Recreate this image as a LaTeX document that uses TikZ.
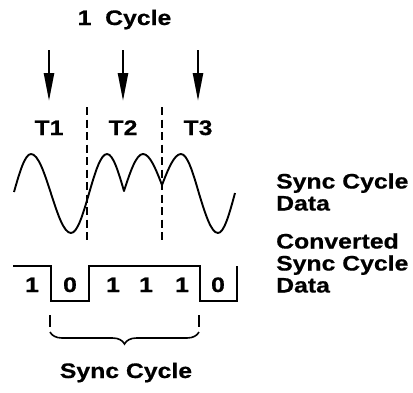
\documentclass[tikz,border=0pt]{standalone}
\usepackage{fontspec}
\usetikzlibrary{arrows.meta, decorations.pathreplacing}
\newfontfamily\lblfont{Liberation Sans}[FakeStretch=1.18, FakeBold=0.6]
\tikzset{
  lbl/.style   = {font=\lblfont\bfseries\fontsize{21}{22}\selectfont, inner sep=0pt},
  side/.style  = {lbl, align=left, anchor=west},
  wave/.style  = {line width=1.9pt, line join=round},
  bits/.style  = {line width=2.8pt, line join=miter},
  cut/.style   = {line width=1.9pt, dash pattern=on 8pt off 4.5pt},
  tick/.style  = {line width=1.9pt},
  arr/.style   = {-{Triangle[length=28pt,width=10pt]}, line width=2.4pt},
  brc/.style   = {line width=1.6pt, decorate,
                  decoration={brace, mirror, amplitude=12pt}},
}

\begin{document}
\begin{tikzpicture}[x=1pt, y=-1pt]
  \useasboundingbox (0,0) rectangle (413,392);

  % sample instants
  \node[lbl, anchor=base] (cyc) at (124.5,25) {1~~Cycle};
  \foreach \i/\x in {1/49, 2/123, 3/198} {
    \coordinate (top\i) at (\x,50);
    \coordinate (tip\i) at (\x,101);
    \draw[arr] (top\i) -- (tip\i);
    \node[lbl, anchor=base] (T\i) at (\x,135) {T\i};
  }

  % slot borders
  \foreach \i/\x in {1/87, 2/162} {
    \coordinate (cutA\i) at (\x,107);
    \coordinate (cutB\i) at (\x,240);
    \draw[cut] (cutA\i) -- (cutB\i);
  }

  % sync cycle data
  \draw[wave] (14,192) sin (31,154) cos (51,193.5) sin (71,233) cos (89,193.5)
    sin (107,154) cos (124,191) sin (143,154) cos (162,185) sin (181,154)
    cos (199,193.5) sin (218,233) cos (235,193);
  \node[side] (raw) at (276,192) {Sync Cycle\\Data};

  % converted data
  \draw[bits] (13,266) -| (51,301) -| (89,266) -| (200,301) -| (237,266);
  \foreach \b/\x/\v in {1/32/1, 2/70/0, 3/113/1, 4/146/1, 5/182/1, 6/218/0}
    \node[lbl, anchor=base] (bit\b) at (\x,292) {\v};
  \node[side] (conv) at (276,263) {Converted\\Sync Cycle\\Data};

  % sync cycle span
  \coordinate (spanL) at (50,332);
  \coordinate (spanR) at (199,332);
  \draw[tick] (50,315) -- (50,327);
  \draw[tick] (199,315) -- (199,327);
  \draw[brc] (spanL) -- (spanR);
  \node[lbl, anchor=base] (span) at (126,378) {Sync Cycle};

\end{tikzpicture}
\end{document}
